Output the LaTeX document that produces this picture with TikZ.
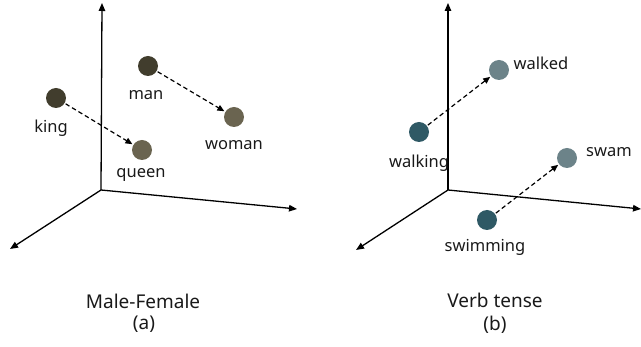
\documentclass[tikz,border=0pt]{standalone}
\usepackage{fontspec}
\setmainfont{Noto Sans}
\usetikzlibrary{arrows.meta}

\definecolor{darkolive}{HTML}{413D2D}
\definecolor{lightolive}{HTML}{6A6450}
\definecolor{darkteal}{HTML}{2F5965}
\definecolor{lightteal}{HTML}{6C8389}

\tikzset{
  axis/.style={line width=1.3pt, -{Triangle[length=8pt,width=6.5pt]}},
  dasharrow/.style={line width=1.2pt, dash pattern=on 4.5pt off 3pt,
    -{Triangle[length=7pt,width=6pt]}, shorten <=1pt, shorten >=1pt},
  dot/.style={circle, minimum size=20pt, inner sep=0pt},
  word/.style={inner sep=0pt, font=\fontsize{16.5}{19}\selectfont, text=black!90},
  caption/.style={inner sep=0pt, font=\fontsize{19}{22}\selectfont, text=black!90}
}

\begin{document}
\begin{tikzpicture}[x=1pt,y=-1pt]
  \useasboundingbox (0,0) rectangle (641,347);

  % ---------- gender panel ----------
  \coordinate (oA) at (101,190);
  \coordinate (upA) at (102,3);
  \coordinate (rightA) at (297,209);
  \coordinate (leftA) at (10,249);
  \draw[axis] (oA) -- (upA);
  \draw[axis] (oA) -- (rightA);
  \draw[axis] (oA) -- (leftA);

  \node[dot, fill=darkolive] (king) at (56,98) {};
  \node[dot, fill=darkolive] (man) at (148,66) {};
  \node[dot, fill=lightolive] (queen) at (142,150) {};
  \node[dot, fill=lightolive] (woman) at (234,117) {};

  \node[word] (kingL) at (51,128) {king};
  \node[word] (manL) at (146,95) {man};
  \node[word] (queenL) at (141,175) {queen};
  \node[word] (womanL) at (234,145) {woman};

  \draw[dasharrow] (king) -- (queen);
  \draw[dasharrow] (man) -- (woman);

  \node[caption] (capA) at (143,301) {Male-Female};
  \node[caption] (subA) at (144,324) {(a)};

  % ---------- tense panel ----------
  \coordinate (oB) at (448,190);
  \coordinate (upB) at (448,3);
  \coordinate (rightB) at (641,209);
  \coordinate (leftB) at (356,250);
  \draw[axis] (oB) -- (upB);
  \draw[axis] (oB) -- (rightB);
  \draw[axis] (oB) -- (leftB);

  \node[dot, fill=darkteal] (walking) at (419,132) {};
  \node[dot, fill=lightteal] (walked) at (499,70) {};
  \node[dot, fill=darkteal] (swimming) at (487,220) {};
  \node[dot, fill=lightteal] (swam) at (567,158) {};

  \node[word] (walkingL) at (419,163) {walking};
  \node[word] (walkedL) at (541,63) {walked};
  \node[word] (swimmingL) at (485,247) {swimming};
  \node[word] (swamL) at (609,152) {swam};

  \draw[dasharrow] (walking) -- (walked);
  \draw[dasharrow] (swimming) -- (swam);

  \node[caption] (capB) at (495,300) {Verb tense};
  \node[caption] (subB) at (495,325) {(b)};
\end{tikzpicture}
\end{document}
